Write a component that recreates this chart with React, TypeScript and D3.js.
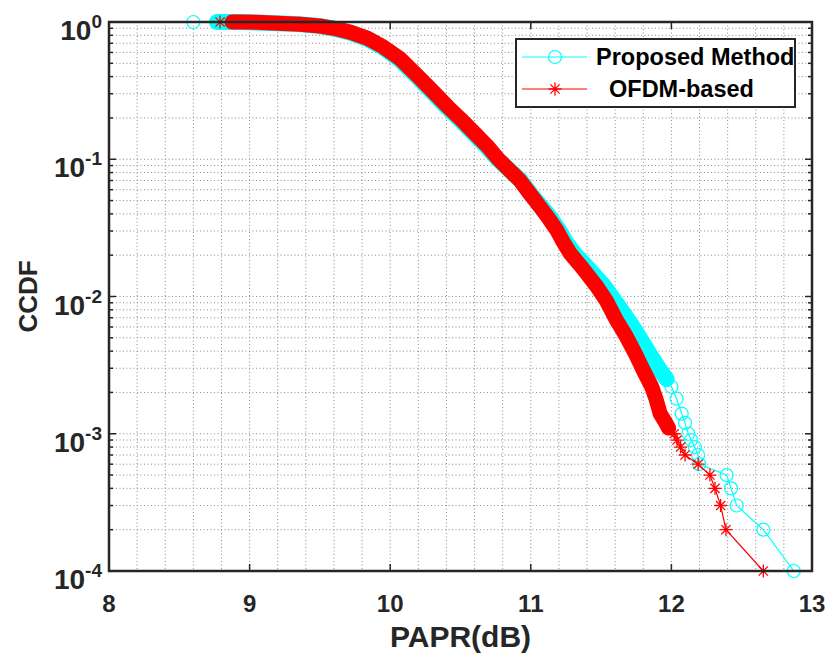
import React from 'react';
import * as d3 from 'd3';

// ---------- data ----------
const xTickValues = [8, 9, 10, 11, 12, 13];
const yDecadeExps = [-4, -3, -2, -1, 0];
const seriesNames = ['Proposed Method', 'OFDM-based'];

const proposedPAPR = [
  8.60, 8.768, 8.80, 8.9, 9.0, 9.19, 9.35, 9.5, 9.59, 9.71, 9.83, 9.94, 10.06, 10.19,
  10.29, 10.40, 10.49, 10.59, 10.68, 10.765, 10.85, 10.925, 11.005, 11.075, 11.135,
  11.20, 11.25, 11.31, 11.41, 11.525, 11.60, 11.695, 11.77, 11.84, 11.92, 11.966,
  12.0, 12.037, 12.073, 12.097, 12.12, 12.14, 12.167, 12.19, 12.198, 12.393, 12.424,
  12.464, 12.654, 12.87,
];
const proposedCCDF = [
  1, 0.9999, 0.9997, 0.998, 0.995, 0.98, 0.965, 0.935, 0.9, 0.84, 0.76, 0.66, 0.54, 0.4,
  0.315, 0.241, 0.197, 0.155, 0.125, 0.1, 0.083, 0.0706, 0.055, 0.0451, 0.038,
  0.0305, 0.025, 0.0206, 0.016, 0.0118, 0.0092, 0.0067, 0.0051, 0.0039, 0.0029, 0.0025,
  0.0022, 0.0018, 0.0014, 0.0012, 0.001, 0.0009, 0.0008, 0.0007, 0.0006, 0.0005, 0.0004,
  0.0003, 0.0002, 0.0001,
];

const ofdmPAPR = [
  8.79, 8.875, 8.95, 9.05, 9.2, 9.36, 9.5, 9.6, 9.72, 9.84, 9.95, 10.07, 10.2, 10.3,
  10.41, 10.5, 10.6, 10.69, 10.77, 10.85, 10.92, 11.0, 11.065, 11.12, 11.184, 11.23,
  11.28, 11.37, 11.47, 11.54, 11.61, 11.68, 11.74, 11.80, 11.86, 11.89, 11.92, 11.96,
  11.98, 12.02, 12.04, 12.065, 12.097, 12.19, 12.274, 12.31, 12.35, 12.388, 12.654,
];
const ofdmCCDF = [
  1, 0.9998, 0.998, 0.994, 0.98, 0.963, 0.935, 0.9, 0.84, 0.76, 0.66, 0.54, 0.4, 0.315,
  0.241, 0.197, 0.155, 0.125, 0.1, 0.083, 0.0706, 0.055, 0.0451, 0.038, 0.0305, 0.025,
  0.0206, 0.016, 0.0118, 0.0092, 0.0067, 0.0051, 0.0039, 0.0029, 0.0022, 0.0018, 0.0014,
  0.0012, 0.0011, 0.001, 0.0009, 0.0008, 0.0007, 0.0006, 0.0005, 0.0004, 0.0003, 0.0002,
  0.0001,
];

// ---------- layout / style ----------
const W = 832;
const H = 655;
const L = 109;
const R = 812;
const T = 22;
const B = 571;
const AX = '#262626';
const FONT = '"Liberation Sans", Arial, Helvetica, sans-serif';
const CYAN = '#00FFFF';
const RED = '#FF0000';

type Pt = [number, number];

function asteriskPath(s: number) {
  const d = s * 0.7071;
  return `M${-s},0H${s}M0,${-s}V${s}M${-d},${-d}L${d},${d}M${-d},${d}L${d},${-d}`;
}

export default function App() {
  const x = d3.scaleLinear().domain([8, 13]).range([L, R]);
  const y = d3.scaleLog().domain([1e-4, 1]).range([B, T]);

  const proposed: Pt[] = proposedPAPR.map((v, i) => [v, proposedCCDF[i]]);
  const ofdm: Pt[] = ofdmPAPR.map((v, i) => [v, ofdmCCDF[i]]);

  const line = d3
    .line<Pt>()
    .x((d) => x(d[0]))
    .y((d) => y(d[1]));

  // dense marker region drawn as a solid band (markers overlap there)
  const propBand = proposed.filter((d, i) => i >= 1 && d[1] >= 0.0025);
  const ofdmBand = ofdm.filter((d, i) => i >= 1 && d[1] >= 0.0011);

  const xMinor = d3.range(1, 25).map((i) => 8 + i * 0.2);
  const yMinor: number[] = [];
  for (let e = -4; e < 0; e++) {
    for (let m = 1; m <= 9; m++) {
      const v = m * Math.pow(10, e);
      if (v > 1e-4) yMinor.push(v);
    }
  }
  const yMinorTicks: number[] = [];
  for (let e = -4; e < 0; e++) {
    for (let m = 2; m <= 9; m++) yMinorTicks.push(m * Math.pow(10, e));
  }

  const gridStyle = { stroke: '#8a8a8a', strokeWidth: 1, strokeDasharray: '1,2.5' };

  return (
    <svg
      width={W}
      height={H}
      viewBox={`0 0 ${W} ${H}`}
      style={{ position: 'absolute', left: 0, top: 0, background: '#fff' }}
      fontFamily={FONT}
      fontWeight="bold"
    >
      <rect x={0} y={0} width={W} height={H} fill="#fff" />
      {/* grid */}
      <g>
        {xMinor.map((v, i) => (
          <line key={'gx' + i} x1={x(v)} x2={x(v)} y1={T} y2={B} {...gridStyle} />
        ))}
        {yMinor.map((v, i) => (
          <line key={'gy' + i} x1={L} x2={R} y1={y(v)} y2={y(v)} {...gridStyle} />
        ))}
      </g>

      {/* ticks */}
      <g stroke={AX} strokeWidth={1.5}>
        {xTickValues.map((v) => (
          <g key={'xt' + v}>
            <line x1={x(v)} x2={x(v)} y1={B} y2={B - 7} />
            <line x1={x(v)} x2={x(v)} y1={T} y2={T + 7} />
          </g>
        ))}
        {yDecadeExps.map((e) => (
          <g key={'yt' + e}>
            <line x1={L} x2={L + 7} y1={y(Math.pow(10, e))} y2={y(Math.pow(10, e))} />
            <line x1={R} x2={R - 7} y1={y(Math.pow(10, e))} y2={y(Math.pow(10, e))} />
          </g>
        ))}
        {yMinorTicks.map((v, i) => (
          <g key={'ymt' + i}>
            <line x1={L} x2={L + 4} y1={y(v)} y2={y(v)} />
            <line x1={R} x2={R - 4} y1={y(v)} y2={y(v)} />
          </g>
        ))}
      </g>

      {/* Proposed Method (cyan circles) */}
      <g>
        <path
          d={line(propBand) || ''}
          fill="none"
          stroke={CYAN}
          strokeWidth={16}
          strokeLinecap="round"
          strokeLinejoin="round"
        />
        <path d={line(proposed) || ''} fill="none" stroke={CYAN} strokeWidth={1.2} />
        {proposed.map((d, i) => (
          <circle
            key={'pc' + i}
            cx={x(d[0])}
            cy={y(d[1])}
            r={6.5}
            fill="none"
            stroke={CYAN}
            strokeWidth={1.2}
          />
        ))}
      </g>

      {/* OFDM-based (red asterisks) */}
      <g>
        <path
          d={line(ofdmBand) || ''}
          fill="none"
          stroke={RED}
          strokeWidth={15}
          strokeLinecap="round"
          strokeLinejoin="round"
        />
        <path d={line(ofdm) || ''} fill="none" stroke={RED} strokeWidth={1.2} />
        {ofdm.map((d, i) => (
          <path
            key={'oa' + i}
            transform={`translate(${x(d[0])},${y(d[1])})`}
            d={asteriskPath(6.5)}
            fill="none"
            stroke={RED}
            strokeWidth={1.3}
          />
        ))}
      </g>

      {/* axes box */}
      <rect x={L} y={T} width={R - L} height={B - T} fill="none" stroke={AX} strokeWidth={2.5} />

      {/* x tick labels */}
      {xTickValues.map((v) => (
        <text key={'xl' + v} x={x(v)} y={B + 41} textAnchor="middle" fontSize={24} fill={AX}>
          {v}
        </text>
      ))}

      {/* y tick labels */}
      {yDecadeExps.map((e) => (
        <text
          key={'yl' + e}
          x={102}
          y={y(Math.pow(10, e)) + 18}
          textAnchor="end"
          fontSize={28}
          fill={AX}
        >
          10
          <tspan dy={-12} fontSize={19}>
            {String(e)}
          </tspan>
        </text>
      ))}

      {/* axis labels */}
      <text x={(L + R) / 2} y={647} textAnchor="middle" fontSize={30} fill={AX}>
        PAPR(dB)
      </text>
      <text
        transform={`translate(37,${(T + B) / 2}) rotate(-90)`}
        textAnchor="middle"
        fontSize={26}
        fill={AX}
      >
        CCDF
      </text>

      {/* legend */}
      <g>
        <rect x={516} y={39} width={279} height={68} fill="#fff" stroke={AX} strokeWidth={2} />
        <line x1={522} x2={587} y1={57} y2={57} stroke={CYAN} strokeWidth={1.2} />
        <circle cx={555} cy={57} r={6.5} fill="none" stroke={CYAN} strokeWidth={1.2} />
        <text x={596} y={65} fontSize={23.5} fill="#000">
          {seriesNames[0]}
        </text>
        <line x1={522} x2={587} y1={89} y2={89} stroke={RED} strokeWidth={1.2} />
        <path
          transform="translate(555,89)"
          d={asteriskPath(6.5)}
          fill="none"
          stroke={RED}
          strokeWidth={1.3}
        />
        <text x={609} y={97} fontSize={23.5} fill="#000">
          {seriesNames[1]}
        </text>
      </g>
    </svg>
  );
}
